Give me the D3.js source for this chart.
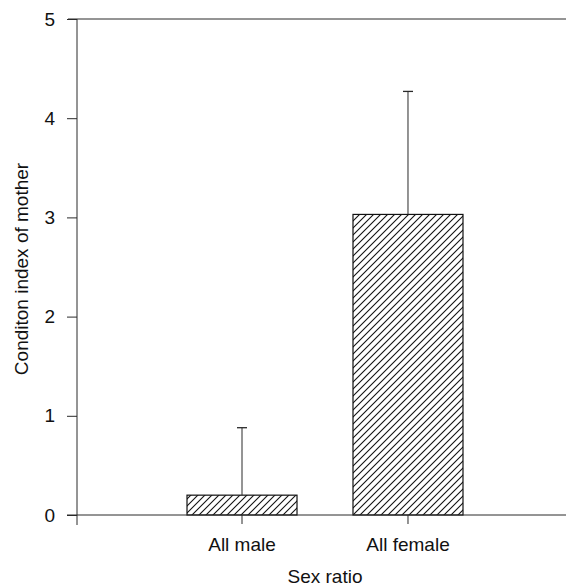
<!DOCTYPE html>
<html>
<head>
<meta charset="utf-8">
<script src="https://cdn.jsdelivr.net/npm/d3@7"></script>
<style>
  body { margin: 0; background: #fff; }
  text { font-family: "Liberation Sans", Arial, sans-serif; fill: #111; }
</style>
</head>
<body>
<div id="vis"></div>
<script>
// data
const categories = ["All male", "All female"];
const means = [0.2, 3.03];
const upperErr = [0.88, 4.27];
const yTicks = [0, 1, 2, 3, 4, 5];

const FRAME_WIDTH = 566;
const FRAME_HEIGHT = 588;
const LINE = "#2a2a2a";
const FONT = "19px";

const svg = d3.select("#vis")
    .append("svg")
    .attr("width", FRAME_WIDTH)
    .attr("height", FRAME_HEIGHT);

// hatch pattern for the bars
const defs = svg.append("defs");
const pat = defs.append("pattern")
    .attr("id", "hatch")
    .attr("patternUnits", "userSpaceOnUse")
    .attr("width", 7)
    .attr("height", 7);
pat.append("path")
    .attr("d", "M-1,8 L8,-1 M-1,1 L1,-1 M6,8 L8,6")
    .attr("stroke", "#111")
    .attr("stroke-width", 1.1);

const Y_SCALE = d3.scaleLinear()
    .domain([0, 5])
    .range([515, 19]);

const X_SCALE = d3.scaleBand()
    .domain(categories)
    .range([159, 491])
    .paddingInner(0.3373)
    .paddingOuter(0.1687);

const data = categories.map((c, i) => ({cat: c, mean: means[i], hi: upperErr[i]}));

// top frame line
svg.append("line")
    .attr("x1", 68).attr("x2", FRAME_WIDTH)
    .attr("y1", Y_SCALE(5)).attr("y2", Y_SCALE(5))
    .attr("stroke", LINE);

// bars
svg.selectAll(".bar")
    .data(data)
    .enter()
    .append("rect")
    .attr("class", "bar")
    .attr("x", d => X_SCALE(d.cat))
    .attr("y", d => Y_SCALE(d.mean))
    .attr("width", X_SCALE.bandwidth())
    .attr("height", d => Y_SCALE(0) - Y_SCALE(d.mean))
    .attr("fill", "url(#hatch)")
    .attr("stroke", "#111")
    .attr("stroke-width", 1.2);

// error bars (upper only)
svg.selectAll(".err")
    .data(data)
    .enter()
    .append("line")
    .attr("class", "err")
    .attr("x1", d => X_SCALE(d.cat) + X_SCALE.bandwidth() / 2)
    .attr("x2", d => X_SCALE(d.cat) + X_SCALE.bandwidth() / 2)
    .attr("y1", d => Y_SCALE(d.mean))
    .attr("y2", d => Y_SCALE(d.hi))
    .attr("stroke", LINE);

svg.selectAll(".cap")
    .data(data)
    .enter()
    .append("line")
    .attr("class", "cap")
    .attr("x1", d => X_SCALE(d.cat) + X_SCALE.bandwidth() / 2 - 5)
    .attr("x2", d => X_SCALE(d.cat) + X_SCALE.bandwidth() / 2 + 5)
    .attr("y1", d => Y_SCALE(d.hi))
    .attr("y2", d => Y_SCALE(d.hi))
    .attr("stroke", LINE)
    .attr("stroke-width", 1.3);

// y axis
const yAxis = svg.append("g")
    .attr("transform", "translate(77,0)")
    .call(d3.axisLeft(Y_SCALE).tickValues(yTicks).tickFormat(d3.format("d"))
        .tickSize(10).tickPadding(12).tickSizeOuter(0));
yAxis.select(".domain").remove();
yAxis.append("line")
    .attr("x1", 0).attr("x2", 0)
    .attr("y1", Y_SCALE(5)).attr("y2", Y_SCALE(0) + 10)
    .attr("stroke", LINE);
yAxis.selectAll(".tick line").attr("stroke", LINE);
yAxis.selectAll(".tick text")
    .attr("font-size", FONT)
    .attr("font-family", "Liberation Sans, Arial, sans-serif")
    .attr("fill", "#111");

// x axis
const xAxis = svg.append("g")
    .attr("transform", "translate(0," + Y_SCALE(0) + ")")
    .call(d3.axisBottom(X_SCALE).tickSize(9).tickPadding(14).tickSizeOuter(0));
xAxis.select(".domain").remove();
xAxis.append("line")
    .attr("x1", 67).attr("x2", FRAME_WIDTH)
    .attr("y1", 0).attr("y2", 0)
    .attr("stroke", LINE);
xAxis.selectAll(".tick line").attr("stroke", LINE);
xAxis.selectAll(".tick text")
    .attr("font-size", FONT)
    .attr("font-family", "Liberation Sans, Arial, sans-serif")
    .attr("fill", "#111");

// axis titles
svg.append("text")
    .attr("x", 325)
    .attr("y", 583)
    .attr("text-anchor", "middle")
    .attr("font-size", FONT)
    .text("Sex ratio");

svg.append("text")
    .attr("transform", "translate(28,269) rotate(-90)")
    .attr("text-anchor", "middle")
    .attr("font-size", FONT)
    .text("Conditon index of mother");
</script>
</body>
</html>
